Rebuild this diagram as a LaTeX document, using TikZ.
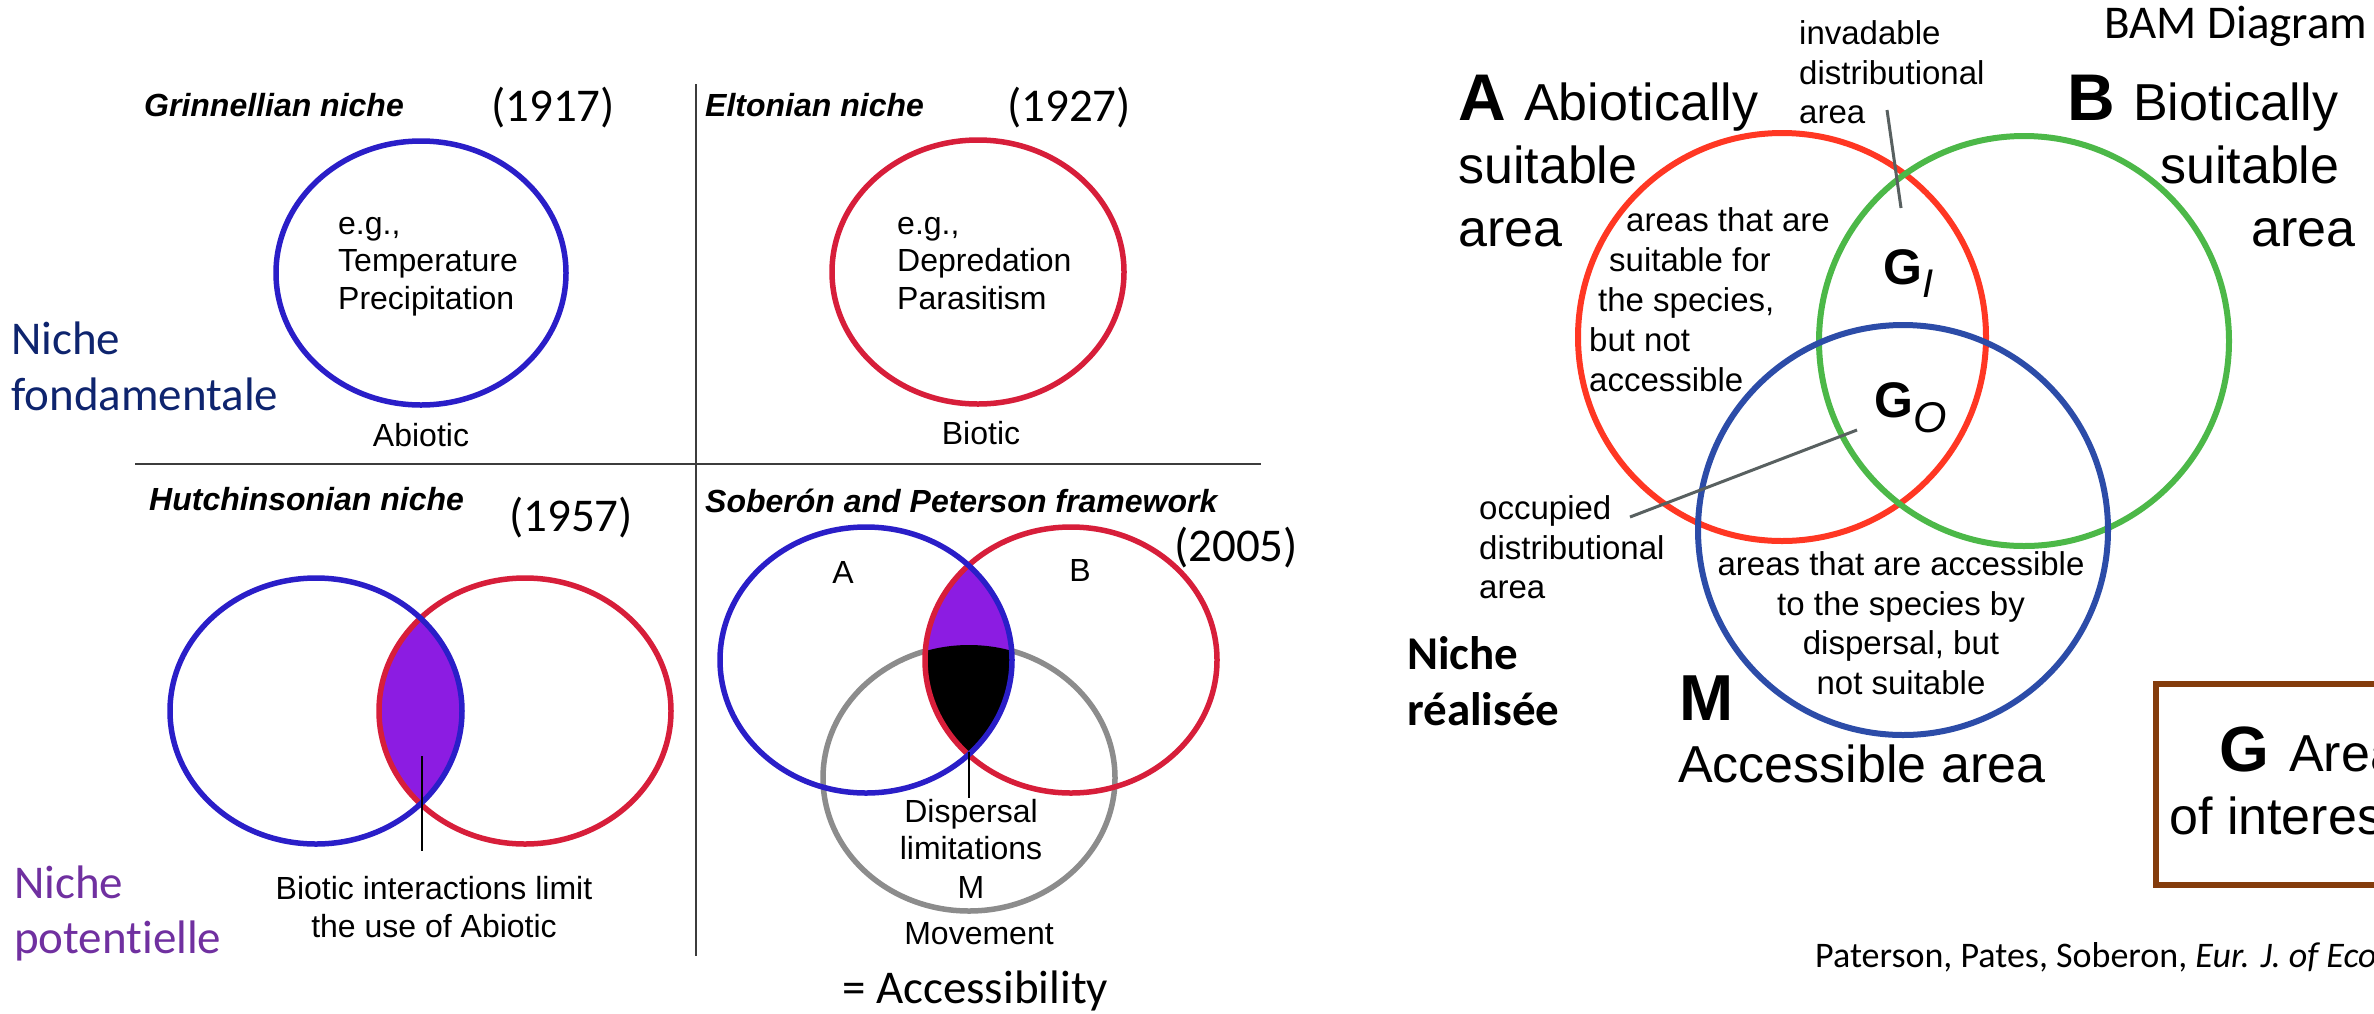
\documentclass[tikz,border=0pt]{standalone}
\usepackage{fontspec}
\setmainfont{Liberation Sans}
\newfontfamily\calfont[Ligatures=NoCommon]{Carlito}
\usetikzlibrary{calc}

\definecolor{lblue}{RGB}{42,30,200}
\definecolor{lred}{RGB}{215,30,58}
\definecolor{lpurple}{RGB}{140,28,226}
\definecolor{mgray}{RGB}{140,140,140}
\definecolor{rred}{RGB}{255,55,35}
\definecolor{rgreen}{RGB}{76,184,72}
\definecolor{rblue}{RGB}{44,76,168}
\definecolor{brownbox}{RGB}{132,60,12}
\definecolor{navy}{RGB}{14,36,110}
\definecolor{nichepurple}{RGB}{112,48,160}
\definecolor{leader}{RGB}{88,96,96}
\definecolor{rulecol}{RGB}{60,60,60}

\tikzset{
  txt/.style={inner sep=0pt, font=\fontsize{32}{37}\selectfont},
  ttl/.style={inner sep=0pt, anchor=base west, font=\bfseries\itshape\fontsize{32}{37}\selectfont},
  yr/.style={inner sep=0pt, anchor=base west, font=\calfont\fontsize{47}{56}\selectfont},
  small/.style={inner sep=0pt, font=\fontsize{33}{40}\selectfont},
  big/.style={inner sep=0pt, font=\fontsize{52}{63}\selectfont},
  bigletter/.style={inner sep=0pt, font=\bfseries\fontsize{66}{70}\selectfont},
  ring/.style={line width=5.5pt},
  rring/.style={line width=6pt},
  divider/.style={draw=rulecol, line width=2.5pt},
  leadline/.style={draw=leader, line width=3pt},
  blackline/.style={draw=black, line width=2pt}
}

\begin{document}
\begin{tikzpicture}[x=1pt,y=-1pt]
\useasboundingbox (0,0) rectangle (2374,1013);
\clip (0,0) rectangle (2374,1013);
\fill[white] (0,0) rectangle (2374,1013);

% ---------------- left panel: dividers ----------------
\coordinate (vtop) at (696,84);
\coordinate (vbot) at (696,956);
\coordinate (hleft) at (135,464);
\coordinate (hright) at (1261,464);
\draw[divider] (vtop) -- (vbot);
\draw[divider] (hleft) -- (hright);

% side labels
\node[yr, text=navy] (nf1) at (11,354) {Niche};
\node[yr, text=navy] (nf2) at (11,410) {fondamentale};
\node[yr, text=nichepurple] (np1) at (14,898) {Niche};
\node[yr, text=nichepurple] (np2) at (14,953) {potentielle};

% ---------------- Grinnellian ----------------
\node[ttl] (grin) at (144,116) {Grinnellian niche};
\node[yr] (y1917) at (491,121) {(1917)};
\draw[ring, lblue] (421,273) ellipse [x radius=145, y radius=132];
\node[txt, anchor=base west] (g1) at (338,234) {e.g.,};
\node[txt, anchor=base west] (g2) at (338,271) {Temperature};
\node[txt, anchor=base west] (g3) at (338,309) {Precipitation};
\node[txt, anchor=base] (abio) at (421,446) {Abiotic};

% ---------------- Eltonian ----------------
\node[ttl] (elt) at (705,116) {Eltonian niche};
\node[yr] (y1927) at (1007,121) {(1927)};
\draw[ring, lred] (978,272) ellipse [x radius=146, y radius=132];
\node[txt, anchor=base west] (e1) at (897,234) {e.g.,};
\node[txt, anchor=base west] (e2) at (897,271) {Depredation};
\node[txt, anchor=base west] (e3) at (897,309) {Parasitism};
\node[txt, anchor=base] (bio) at (981,444) {Biotic};

% ---------------- Hutchinsonian ----------------
\node[ttl] (hut) at (149,510) {Hutchinsonian niche};
\node[yr] (y1957) at (509,531) {(1957)};
\begin{scope}
  \clip (316,711) ellipse [x radius=146, y radius=133];
  \fill[lpurple] (525,711) ellipse [x radius=146, y radius=133];
\end{scope}
\draw[ring, lred] (525,711) ellipse [x radius=146, y radius=133];
\draw[ring, lblue] (316,711) ellipse [x radius=146, y radius=133];
\coordinate (hlens) at (422,756);
\coordinate (hfoot) at (422,851);
\draw[blackline] (hlens) -- (hfoot);
\node[txt, anchor=base] (bint1) at (434,899) {Biotic interactions limit};
\node[txt, anchor=base] (bint2) at (434,937) {the use of Abiotic};

% ---------------- Soberon & Peterson ----------------
\node[ttl] (sob) at (705,512) {Soberón and Peterson framework};
\draw[ring, mgray] (969,778) ellipse [x radius=146, y radius=133];
\begin{scope}
  \clip (866,660) ellipse [x radius=146, y radius=133];
  \fill[lpurple] (1071,660) ellipse [x radius=146, y radius=133];
\end{scope}
\begin{scope}
  \clip (866,660) ellipse [x radius=146, y radius=133];
  \clip (1071,660) ellipse [x radius=146, y radius=133];
  \fill[black] (969,778) ellipse [x radius=146, y radius=133];
\end{scope}
\draw[ring, lred] (1071,660) ellipse [x radius=146, y radius=133];
\draw[ring, lblue] (866,660) ellipse [x radius=146, y radius=133];
\node[yr] (y2005) at (1174,561) {(2005)};
\node[txt, anchor=base] (labA) at (843,583) {A};
\node[txt, anchor=base] (labB) at (1080,581) {B};
\coordinate (slens) at (969,752);
\coordinate (sfoot) at (969,798);
\draw[blackline] (slens) -- (sfoot);
\node[txt, anchor=base] (d1) at (971,822) {Dispersal};
\node[txt, anchor=base] (d2) at (971,859) {limitations};
\node[txt, anchor=base] (d3) at (971,898) {M};
\node[txt, anchor=base] (mov) at (979,944) {Movement};
\node[yr] (acc) at (842,1003) {= Accessibility};

% ---------------- right panel: BAM ----------------
\node[yr] (bam) at (2104,38) {BAM Diagram};

\draw[rring, rred] (1782,337) circle [radius=204];
\draw[rring, rgreen] (2024,341) circle [radius=205];
\draw[rring, rblue] (1903,530) circle [radius=205];

\node[bigletter, anchor=base west] (bigA) at (1458,120) {A};
\node[big, anchor=base west] (abiot) at (1524,120) {Abiotically};
\node[big, anchor=base west] (suitA) at (1458,183) {suitable};
\node[big, anchor=base west] (areaA) at (1458,246) {area};

\node[bigletter, anchor=base west] (bigB) at (2067,120) {B};
\node[big, anchor=base west] (biot) at (2133,120) {Biotically};
\node[big, anchor=base west] (suitB) at (2160,183) {suitable};
\node[big, anchor=base west] (areaB) at (2251,246) {area};

\node[small, anchor=base west] (inv1) at (1799,44) {invadable};
\node[small, anchor=base west] (inv2) at (1799,84) {distributional};
\node[small, anchor=base west] (inv3) at (1799,123) {area};
\coordinate (invtop) at (1887,110);
\coordinate (invbot) at (1901,208);
\draw[leadline] (invtop) -- (invbot);

\node[small, anchor=base west] (sa1) at (1626,231) {areas that are};
\node[small, anchor=base west] (sa2) at (1609,271) {suitable for};
\node[small, anchor=base west] (sa3) at (1598,311) {the species,};
\node[small, anchor=base west] (sa4) at (1589,351) {but not};
\node[small, anchor=base west] (sa5) at (1589,391) {accessible};

\node[inner sep=0pt, anchor=base west, font=\bfseries\fontsize{50}{50}\selectfont] (gi) at (1883,284) {G\raisebox{-13pt}{\mdseries\itshape\fontsize{40}{40}\selectfont I}};
\node[inner sep=0pt, anchor=base west, font=\bfseries\fontsize{50}{50}\selectfont] (go) at (1874,417) {G\raisebox{-15pt}{\mdseries\itshape\fontsize{43}{43}\selectfont O}};

\node[small, anchor=base west] (oc1) at (1479,519) {occupied};
\node[small, anchor=base west] (oc2) at (1479,559) {distributional};
\node[small, anchor=base west] (oc3) at (1479,598) {area};
\coordinate (octop) at (1857,430);
\coordinate (ocbot) at (1630,517);
\draw[leadline] (octop) -- (ocbot);

\node[small, anchor=base] (ma1) at (1901,575) {areas that are accessible};
\node[small, anchor=base] (ma2) at (1901,615) {to the species by};
\node[small, anchor=base] (ma3) at (1901,654) {dispersal, but};
\node[small, anchor=base] (ma4) at (1901,694) {not suitable};

\node[inner sep=0pt, anchor=base west, font=\bfseries\fontsize{65}{70}\selectfont] (bigM) at (1679,720) {M};
\node[big, anchor=base west] (accarea) at (1678,782) {Accessible area};

\node[yr, font=\calfont\bfseries\fontsize{47}{56}\selectfont] (nr1) at (1407,669) {Niche};
\node[yr, font=\calfont\bfseries\fontsize{47}{56}\selectfont] (nr2) at (1407,725) {réalisée};

\node[draw=brownbox, line width=6pt, anchor=north west, minimum width=290, minimum height=201, inner sep=0pt] (gbox) at (2153,681) {};
\node[bigletter, anchor=base west, font=\bfseries\fontsize{64}{70}\selectfont] (bigG) at (2219,771) {G};
\node[big, anchor=base west] (garea) at (2289,771) {Area};
\node[big, anchor=base west] (gint) at (2169,834) {of interest};

\node[inner sep=0pt, anchor=base west, font=\calfont\fontsize{36}{43}\selectfont] (cite) at (1815,967) {Paterson, Pates, Soberon, \textit{Eur. J. of Ecology}};
\end{tikzpicture}
\end{document}
